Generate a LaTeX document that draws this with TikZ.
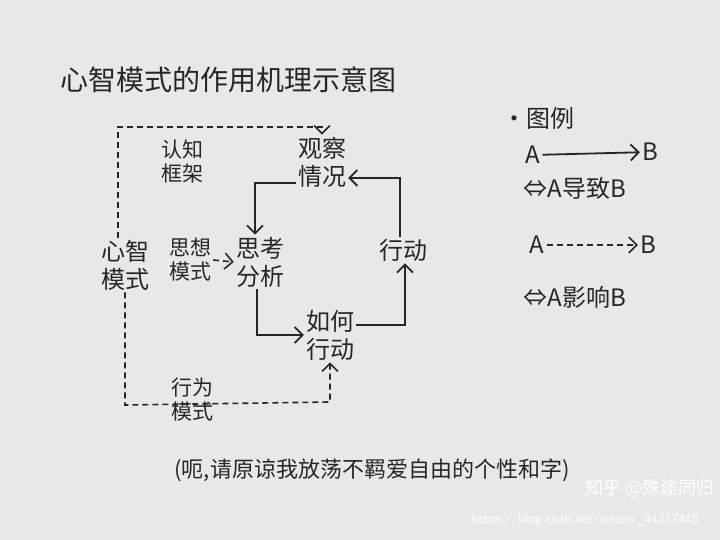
\documentclass[tikz,border=0pt]{standalone}
\usepackage{fontspec}
\setmainfont{Noto Sans CJK SC}
\usetikzlibrary{arrows.meta}
\begin{document}
\begin{tikzpicture}[x=1pt,y=-1pt,
  lbl/.style={font=\fontsize{24}{28}\selectfont, text=black!85, align=center, inner sep=2pt},
  solidarr/.style={draw=black!85, line width=1.8pt, -{Straight Barb[length=8pt]}},
  dasharr/.style={draw=black!85, line width=1.6pt, dash pattern=on 6pt off 4pt, -{Straight Barb[length=8pt]}}]
\fill[gray!18] (0,0) rectangle (720,540);
\useasboundingbox (0,0) rectangle (720,540);
\node[lbl, font=\fontsize{28}{32}\selectfont] (title) at (228,80) {心智模式的作用机理示意图};
\node[lbl, font=\fontsize{21}{24}\selectfont] (frame) at (182,162) {认知\\框架};
\node[lbl] (obs) at (322,162) {观察\\情况};
\node[lbl] (mind) at (125,265) {心智\\模式};
\node[lbl, font=\fontsize{21}{24}\selectfont] (thought) at (190,260) {思想\\模式};
\node[lbl] (anal) at (260,262) {思考\\分析};
\node[lbl] (act) at (403,250) {行动};
\node[lbl] (how) at (330,335) {如何\\行动};
\node[lbl, font=\fontsize{21}{24}\selectfont] (beh) at (192,400) {行为\\模式};
% legend
\node[lbl] (leg) at (538,118) {•图例};
\node[lbl] (a1) at (533,155) {A};
\node[lbl] (b1) at (650,152) {B};
\draw[solidarr] (a1) -- (b1);
\node[lbl] (l1) at (575,188) {⇔A导致B};
\node[lbl] (a2) at (537,245) {A};
\node[lbl] (b2) at (648,245) {B};
\draw[dasharr] (a2) -- (b2);
\node[lbl] (l2) at (575,297) {⇔A影响B};
\node[lbl, font=\fontsize{22}{26}\selectfont] (foot) at (372,470) {(呃,请原谅我放荡不羁爱自由的个性和字)};
\node[lbl, text=white, font=\fontsize{18}{20}\selectfont] (wm) at (650,488) {知乎 @殊途同归};
\node[text=white, font=\fontsize{14}{15}\selectfont\sffamily] (url) at (585,520) {https://blog.csdn.net/weixin\_44337445};
% dashed connectors
\coordinate (m1) at (118,127); \coordinate (m2) at (322,127);
\draw[dasharr] (mind.north -| 118,0) -- (m1) -- (m2) -- (obs.north);
\coordinate (m3) at (125,405); \coordinate (m4) at (330,402);
\draw[dasharr] (mind.south) -- (m3) -- (m4) -- (how.south);
\draw[dasharr] (thought.east) -- (anal.west);
% solid connectors
\coordinate (s1) at (255,183);
\draw[solidarr] (obs.west |- 0,183) -- (s1) -- (anal.north -| 255,0);
\coordinate (s2) at (257,335);
\draw[solidarr] (anal.south -| 257,0) -- (s2) -- (how.west |- 0,335);
\coordinate (s3) at (405,325);
\draw[solidarr] (how.east |- 0,325) -- (s3) -- (act.south -| 405,0);
\coordinate (s4) at (400,178);
\draw[solidarr] (act.north -| 400,0) -- (s4) -- (obs.east |- 0,178);
\end{tikzpicture}
\end{document}
